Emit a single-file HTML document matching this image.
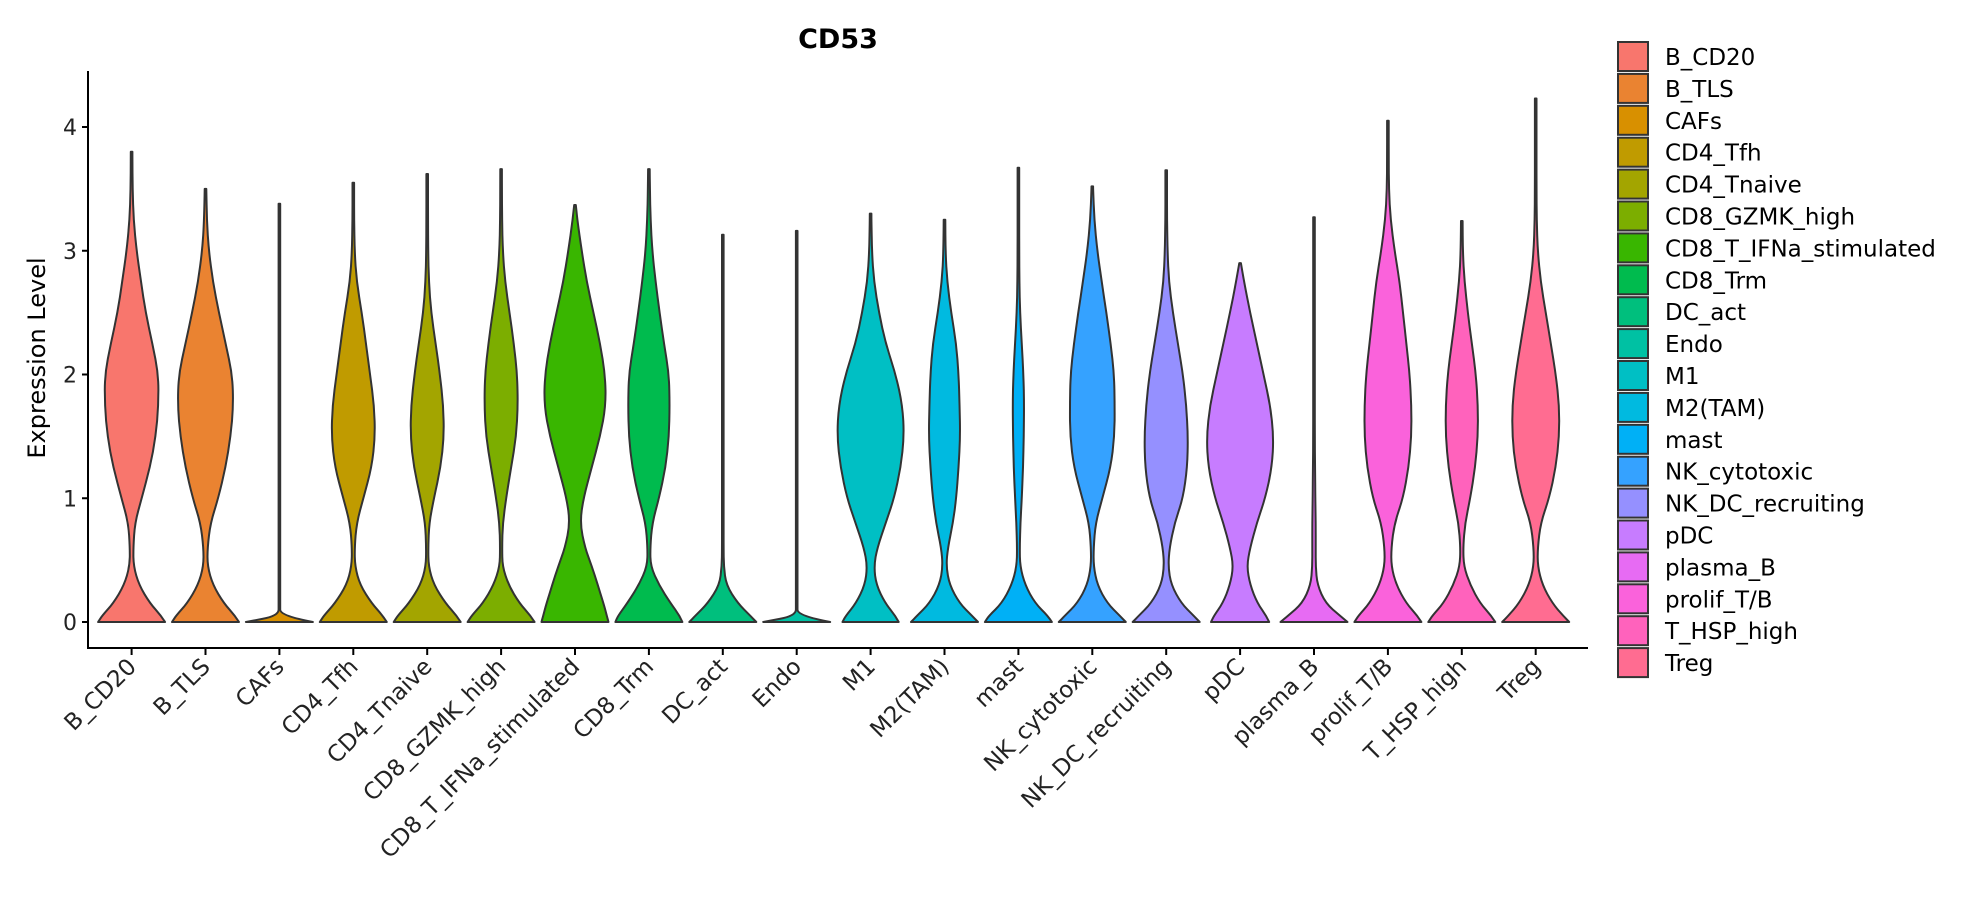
<!DOCTYPE html>
<html><head><meta charset="utf-8"><style>
html,body{margin:0;padding:0;background:#fff;}
svg{display:block;font-family:"DejaVu Sans","Liberation Sans",sans-serif;}
</style></head><body>
<svg id="chart" width="1965" height="900" viewBox="0 0 1965 900" xmlns="http://www.w3.org/2000/svg">
<text x="838" y="48" text-anchor="middle" font-size="27" font-weight="bold" fill="#000">CD53</text>
<text transform="translate(45,358) rotate(-90)" text-anchor="middle" font-size="24" fill="#000">Expression Level</text>
<g id="marks"></g>
</svg>
<script>
const categories = ["B_CD20","B_TLS","CAFs","CD4_Tfh","CD4_Tnaive","CD8_GZMK_high","CD8_T_IFNa_stimulated","CD8_Trm","DC_act","Endo","M1","M2(TAM)","mast","NK_cytotoxic","NK_DC_recruiting","pDC","plasma_B","prolif_T/B","T_HSP_high","Treg"];
const colors = ["#F8766D","#EA8331","#D89000","#C09B00","#A3A500","#7CAE00","#39B600","#00BB4E","#00BF7D","#00C1A3","#00BFC4","#00BAE0","#00B0F6","#35A2FF","#9590FF","#C77CFF","#E76BF3","#FA62DB","#FF62BC","#FF6C91"];
const maxValues = [3.8,3.5,3.38,3.55,3.62,3.66,3.37,3.66,3.13,3.16,3.3,3.25,3.67,3.52,3.65,2.9,3.27,4.05,3.24,4.23];
const levels = [0,0.05,0.15,0.3,0.45,0.6,0.8,1,1.25,1.5,1.75,2,2.25,2.5,2.75,3,3.25,3.5,3.75,4,4.25];
const densities = [
[1,.88,.55,.22,.06,.05,.1,.3,.55,.72,.8,.8,.62,.42,.28,.15,.06,.03,.02],
[1,.88,.55,.22,.06,.06,.15,.38,.6,.75,.83,.8,.6,.4,.22,.1,.04,.02],
[1,.01,.01,.01,.01,.01,.01,.01,.01,.01,.01,.01,.01,.01,.01,.01,.01,.01],
[1,.88,.55,.2,.05,.04,.1,.3,.55,.65,.62,.5,.38,.25,.1,.04,.02,.02],
[1,.88,.55,.2,.04,.03,.06,.2,.4,.5,.48,.38,.25,.12,.05,.03,.02,.02],
[1,.88,.55,.22,.04,.03,.05,.15,.3,.45,.5,.48,.38,.25,.12,.05,.03,.02],
[1,.95,.85,.68,.5,.3,.15,.25,.5,.75,.92,.9,.75,.55,.35,.2,.07,.02],
[1,.92,.65,.3,.05,.04,.1,.3,.5,.6,.62,.6,.45,.32,.2,.1,.05,.03,.02],
[1,.82,.45,.1,.03,.02,.02,.02,.02,.02,.02,.02,.02,.02,.02,.02,.02],
[1,.01,.01,.01,.01,.01,.01,.01,.01,.01,.01,.01,.01,.01,.01,.01,.01],
[.84,.74,.44,.17,.1,.2,.45,.7,.9,1,.95,.75,.45,.25,.1,.04,.02,.02],
[1,.82,.45,.15,.05,.1,.25,.35,.42,.47,.45,.42,.35,.2,.08,.03,.02],
[1,.88,.5,.2,.05,.04,.06,.1,.14,.16,.17,.15,.1,.05,.03,.02,.02,.02],
[1,.82,.45,.15,.04,.04,.1,.3,.55,.66,.67,.65,.55,.42,.28,.15,.06,.02],
[1,.82,.45,.15,.06,.1,.25,.5,.63,.65,.6,.5,.35,.2,.08,.04,.02,.02],
[.87,.78,.52,.3,.2,.3,.5,.75,.95,1,.9,.7,.5,.3,.12,.03],
[1,.78,.35,.1,.05,.05,.05,.04,.03,.02,.02,.02,.02,.02,.02,.02,.02],
[1,.88,.55,.25,.1,.1,.2,.45,.62,.7,.7,.65,.55,.45,.35,.2,.08,.03,.02,.02],
[1,.88,.55,.25,.06,.04,.1,.25,.4,.48,.48,.42,.3,.18,.08,.03,.02],
[1,.82,.5,.2,.06,.06,.15,.4,.6,.7,.7,.6,.45,.3,.15,.06,.03,.02,.01,.01]
];
const yTicks = [0,1,2,3,4];

const NS = "http://www.w3.org/2000/svg";
const g = document.getElementById('marks');
const X0 = 131.6, DX = 73.9, Y0 = 622, PXU = 123.75, HW = 33.5;
function xScale(i){ return X0 + i*DX; }
function yScale(v){ return Y0 - v*PXU; }
function mk(tag, attrs, parent){ const e=document.createElementNS(NS,tag); for(const k in attrs) e.setAttribute(k,attrs[k]); (parent||g).appendChild(e); return e; }

const yAxis = mk('line',{x1:88,y1:71,x2:88,y2:649,stroke:'#000','stroke-width':2});


const xAxis = mk('line',{x1:87,y1:648,x2:1588,y2:648,stroke:'#000','stroke-width':2});



yTicks.forEach(t=>{
  const y=yScale(t);
  const tk=mk('line',{x1:82,y1:y,x2:88,y2:y,stroke:'#000','stroke-width':2});
  
  
  const tl=mk('text',{x:77,y:y+8,'text-anchor':'end','font-size':22,fill:'#222'});
  tl.textContent=t;
  
  
});

function smoothPath(pts){
  let d='M'+pts[0][0].toFixed(1)+','+pts[0][1].toFixed(1);
  for(let i=1;i<pts.length-1;i++){
    const mx=(pts[i][0]+pts[i+1][0])/2, my=(pts[i][1]+pts[i+1][1])/2;
    d+=' Q'+pts[i][0].toFixed(1)+','+pts[i][1].toFixed(1)+' '+mx.toFixed(1)+','+my.toFixed(1);
  }
  const l=pts[pts.length-1];
  d+=' L'+l[0].toFixed(1)+','+l[1].toFixed(1);
  return d;
}

categories.forEach((c,i)=>{
  const cx=xScale(i), mx=maxValues[i], dens=densities[i];
  const prof=[];
  for(let k=0;k<levels.length && k<dens.length;k++){
    if(levels[k]>=mx) break;
    prof.push([levels[k],dens[k]]);
  }
  prof.push([mx,0.008]);
  const right=prof.map(p=>[cx+Math.max(p[1]*HW,0.8),yScale(p[0])]);
  const left=prof.slice().reverse().map(p=>[cx-Math.max(p[1]*HW,0.8),yScale(p[0])]);
  let d=smoothPath(right);
  d+=smoothPath(left).replace(/^M/,' L')+' Z';
  const v=mk('path',{d:d,fill:colors[i],stroke:'#333','stroke-width':2,'stroke-linejoin':'round'});
  
  
  const tk=mk('line',{x1:cx,y1:648,x2:cx,y2:655,stroke:'#000','stroke-width':2});
  
  
  const lb=mk('text',{transform:'translate('+(cx+6)+',668) rotate(-45)','text-anchor':'end','font-size':23,fill:'#222'});
  lb.textContent=c;
  
  

  const ly=42+i*31.9;
  const bx=mk('rect',{x:1618,y:ly,width:30,height:29,fill:colors[i],stroke:'#333','stroke-width':2});
  
  
  const lt=mk('text',{x:1665,y:ly+23,'font-size':23,fill:'#000'});
  lt.textContent=c;
  
  
});
</script>
</body></html>
